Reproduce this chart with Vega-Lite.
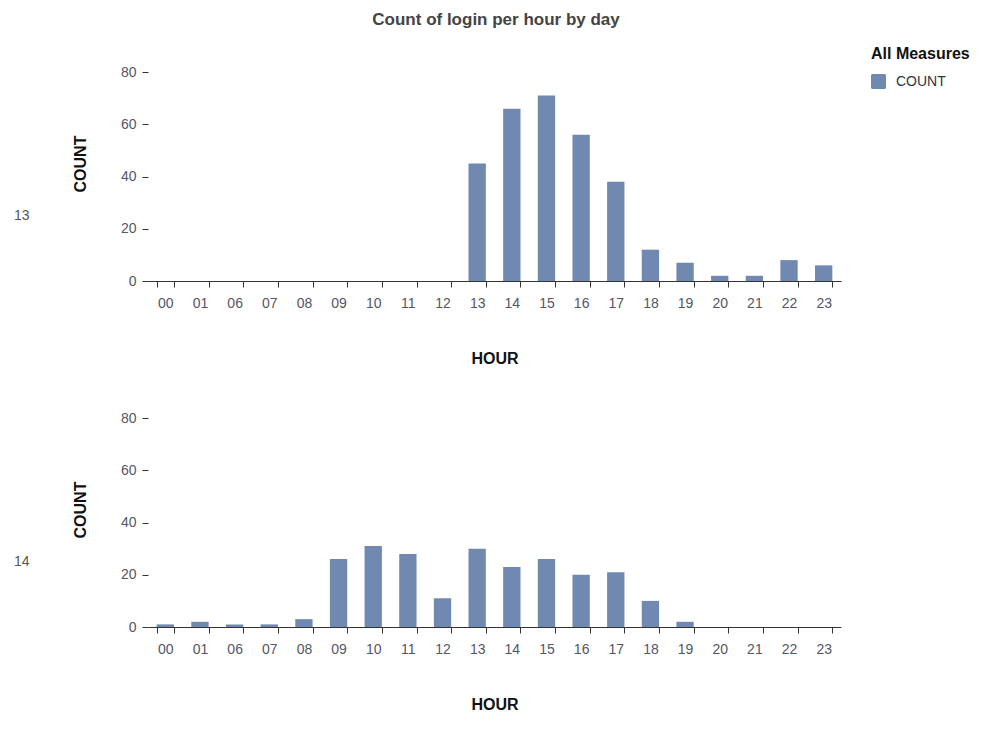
{
  "$schema": "https://vega.github.io/schema/vega-lite/v6.json",
  "padding": {"left": 14, "top": 11, "right": 5, "bottom": 5},
  "background": "white",
  "title": {"text": "Count of login per hour by day", "fontSize": 17, "font": "Liberation Sans", "fontWeight": "bold", "color": "#444444", "offset": 17, "anchor": "middle", "dx": 4},
  "data": {"values": [
    {"day": "13", "hour": "00", "count": 0, "measure": "COUNT"},
    {"day": "13", "hour": "01", "count": 0, "measure": "COUNT"},
    {"day": "13", "hour": "06", "count": 0, "measure": "COUNT"},
    {"day": "13", "hour": "07", "count": 0, "measure": "COUNT"},
    {"day": "13", "hour": "08", "count": 0, "measure": "COUNT"},
    {"day": "13", "hour": "09", "count": 0, "measure": "COUNT"},
    {"day": "13", "hour": "10", "count": 0, "measure": "COUNT"},
    {"day": "13", "hour": "11", "count": 0, "measure": "COUNT"},
    {"day": "13", "hour": "12", "count": 0, "measure": "COUNT"},
    {"day": "13", "hour": "13", "count": 45, "measure": "COUNT"},
    {"day": "13", "hour": "14", "count": 66, "measure": "COUNT"},
    {"day": "13", "hour": "15", "count": 71, "measure": "COUNT"},
    {"day": "13", "hour": "16", "count": 56, "measure": "COUNT"},
    {"day": "13", "hour": "17", "count": 38, "measure": "COUNT"},
    {"day": "13", "hour": "18", "count": 12, "measure": "COUNT"},
    {"day": "13", "hour": "19", "count": 7, "measure": "COUNT"},
    {"day": "13", "hour": "20", "count": 2, "measure": "COUNT"},
    {"day": "13", "hour": "21", "count": 2, "measure": "COUNT"},
    {"day": "13", "hour": "22", "count": 8, "measure": "COUNT"},
    {"day": "13", "hour": "23", "count": 6, "measure": "COUNT"},
    {"day": "14", "hour": "00", "count": 1, "measure": "COUNT"},
    {"day": "14", "hour": "01", "count": 2, "measure": "COUNT"},
    {"day": "14", "hour": "06", "count": 1, "measure": "COUNT"},
    {"day": "14", "hour": "07", "count": 1, "measure": "COUNT"},
    {"day": "14", "hour": "08", "count": 3, "measure": "COUNT"},
    {"day": "14", "hour": "09", "count": 26, "measure": "COUNT"},
    {"day": "14", "hour": "10", "count": 31, "measure": "COUNT"},
    {"day": "14", "hour": "11", "count": 28, "measure": "COUNT"},
    {"day": "14", "hour": "12", "count": 11, "measure": "COUNT"},
    {"day": "14", "hour": "13", "count": 30, "measure": "COUNT"},
    {"day": "14", "hour": "14", "count": 23, "measure": "COUNT"},
    {"day": "14", "hour": "15", "count": 26, "measure": "COUNT"},
    {"day": "14", "hour": "16", "count": 20, "measure": "COUNT"},
    {"day": "14", "hour": "17", "count": 21, "measure": "COUNT"},
    {"day": "14", "hour": "18", "count": 10, "measure": "COUNT"},
    {"day": "14", "hour": "19", "count": 2, "measure": "COUNT"},
    {"day": "14", "hour": "20", "count": 0, "measure": "COUNT"},
    {"day": "14", "hour": "21", "count": 0, "measure": "COUNT"},
    {"day": "14", "hour": "22", "count": 0, "measure": "COUNT"},
    {"day": "14", "hour": "23", "count": 0, "measure": "COUNT"}
  ]},
  "facet": {
    "row": {"field": "day", "type": "nominal", "title": null,
      "header": {"labelAngle": 0, "labelOrient": "left", "labelFont": "Liberation Sans", "labelFontSize": 14, "labelColor": "#555555", "labelPadding": 35, "labelAlign": "center", "labelBaseline": "line-top", "labelLineHeight": 104}}
  },
  "spacing": {"row": 26},
  "resolve": {"axis": {"x": "independent"}},
  "spec": {
    "width": 693,
    "height": 235,
    "mark": {"type": "bar", "strokeWidth": 0},
    "encoding": {
      "x": {"field": "hour", "type": "ordinal", "title": "HOUR",
        "scale": {"paddingInner": 0.5, "paddingOuter": 0.25},
        "axis": {"tickBand": "extent", "labelAngle": 0, "tickSize": 6, "tickColor": "#333333", "domainColor": "#333333", "labelPadding": 9, "titlePadding": 40}},
      "y": {"field": "count", "type": "quantitative", "title": "COUNT",
        "scale": {"domain": [0, 90], "nice": false},
        "axis": {"values": [0, 20, 40, 60, 80], "grid": false, "domain": false, "tickSize": 6, "tickColor": "#333333", "labelPadding": 6, "titlePadding": 32}},
      "color": {"field": "measure", "type": "nominal", "title": "All Measures",
        "scale": {"range": ["#7189b1"]},
        "legend": {"symbolType": "M-0.8,-1H0.8A0.2,0.2,0,0,1,1,-0.8V0.8A0.2,0.2,0,0,1,0.8,1H-0.8A0.2,0.2,0,0,1,-1,0.8V-0.8A0.2,0.2,0,0,1,-0.8,-1Z", "symbolSize": 225, "symbolStrokeWidth": 0, "orient": "right", "offset": 30, "titlePadding": 12, "labelOffset": 10}}
    }
  },
  "config": {
    "view": {"stroke": null},
    "font": "Liberation Sans",
    "axis": {"labelFont": "Liberation Sans", "labelFontSize": 14, "labelColor": "#555566", "titleFont": "Liberation Sans", "titleFontSize": 16, "titleFontWeight": "bold", "titleColor": "#111111"},
    "legend": {"titleFont": "Liberation Sans", "titleFontSize": 16, "titleFontWeight": "bold", "titleColor": "#111111", "labelFont": "Liberation Sans", "labelFontSize": 14, "labelColor": "#333344"}
  }
}
